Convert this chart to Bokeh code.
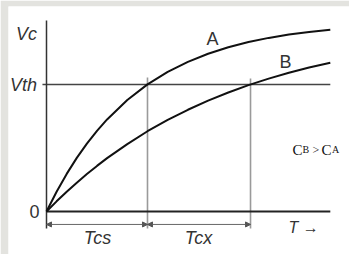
from bokeh.plotting import figure
from bokeh.models import Range1d, Arrow, NormalHead
from bokeh.core.properties import value
from bokeh.embed import file_html
from bokeh.resources import INLINE

# Charging curves (time in units of Tcs, voltage in units of Vth)
t_values = [0, 0.1, 0.2, 0.3, 0.4, 0.5, 0.6, 0.8, 1.0, 1.2, 1.4, 1.6, 1.8, 2.0, 2.2, 2.4, 2.6, 2.81]
v_a = [0, 0.156, 0.296, 0.422, 0.534, 0.635, 0.725, 0.878, 1.001, 1.099, 1.178, 1.242, 1.293, 1.334, 1.367, 1.393, 1.414, 1.432]
v_b = [0, 0.080, 0.156, 0.227, 0.295, 0.359, 0.420, 0.531, 0.632, 0.721, 0.801, 0.873, 0.937, 0.995, 1.046, 1.092, 1.134, 1.172]

v_th = 1.0
t_cs = 1.0
t_cx = 2.02
t_end = 2.81
v_top = 1.504
v_low = -0.134
v_dim = -0.102

p = figure(width=349, height=254, output_backend="svg", toolbar_location=None,
           x_range=Range1d(-0.3762, 3.0), y_range=Range1d(-0.3386, 1.6142),
           min_border_left=8, min_border_top=6, min_border_right=0, min_border_bottom=0,
           border_fill_color="#e3e3df", background_fill_color="white")
p.axis.visible = False
p.grid.visible = False
p.outline_line_color = None

# guide lines
p.segment(x0=[t_cs, t_cx], y0=[v_low, v_low], x1=[t_cs, t_cx], y1=[1.055, 1.047],
          line_color="#9a9a9a", line_width=1.6)
p.segment(x0=[-0.04], y0=[v_th], x1=[t_end], y1=[v_th], line_color="#444444", line_width=1.5)
# axes
p.segment(x0=[0], y0=[v_low], x1=[0], y1=[v_top], line_color="#333333", line_width=1.5)
p.segment(x0=[0], y0=[0], x1=[t_end], y1=[0], line_color="#222222", line_width=2)

# curves
p.line(t_values, v_a, line_color="#111111", line_width=2)
p.line(t_values, v_b, line_color="#111111", line_width=2)

# dimension arrows
for xs, xe in [(0, t_cs), (t_cs, t_cx)]:
    p.add_layout(Arrow(start=NormalHead(size=5, fill_color="#555555", line_color="#555555"),
                       end=NormalHead(size=5, fill_color="#555555", line_color="#555555"),
                       x_start=xs, y_start=v_dim, x_end=xe, y_end=v_dim,
                       line_color="#666666", line_width=1))

sans = value("Liberation Sans")
def lab(x, y, s, style="italic", size="18px"):
    p.text(x=[x], y=[y], text=[s], text_font=sans, text_font_style=style,
           text_font_size=size, text_color="#333333", text_align="center",
           text_baseline="middle")

lab(-0.198, 1.40, "Vc")
lab(-0.228, 1.0, "Vth")
lab(-0.119, 0.0, "0", style="normal")
lab(0.505, -0.205, "Tcs")
lab(1.505, -0.205, "Tcx")
lab(2.545, -0.126, "T \u2192", size="16px")
lab(1.644, 1.362, "A", style="normal")
lab(2.366, 1.181, "B", style="normal")

serif = value("Liberation Serif")
for x, s, size in [(2.436, "C", "15px"), (2.535, "B", "10px"), (2.634, ">", "12px"),
                   (2.723, "C", "15px"), (2.827, "A", "10px")]:
    p.text(x=[x], y=[0.488], text=[s], text_font=serif, text_font_size=size,
           text_color="#111111", text_align="left", text_baseline="alphabetic")

open("out.html", "w").write(file_html(p, INLINE))
